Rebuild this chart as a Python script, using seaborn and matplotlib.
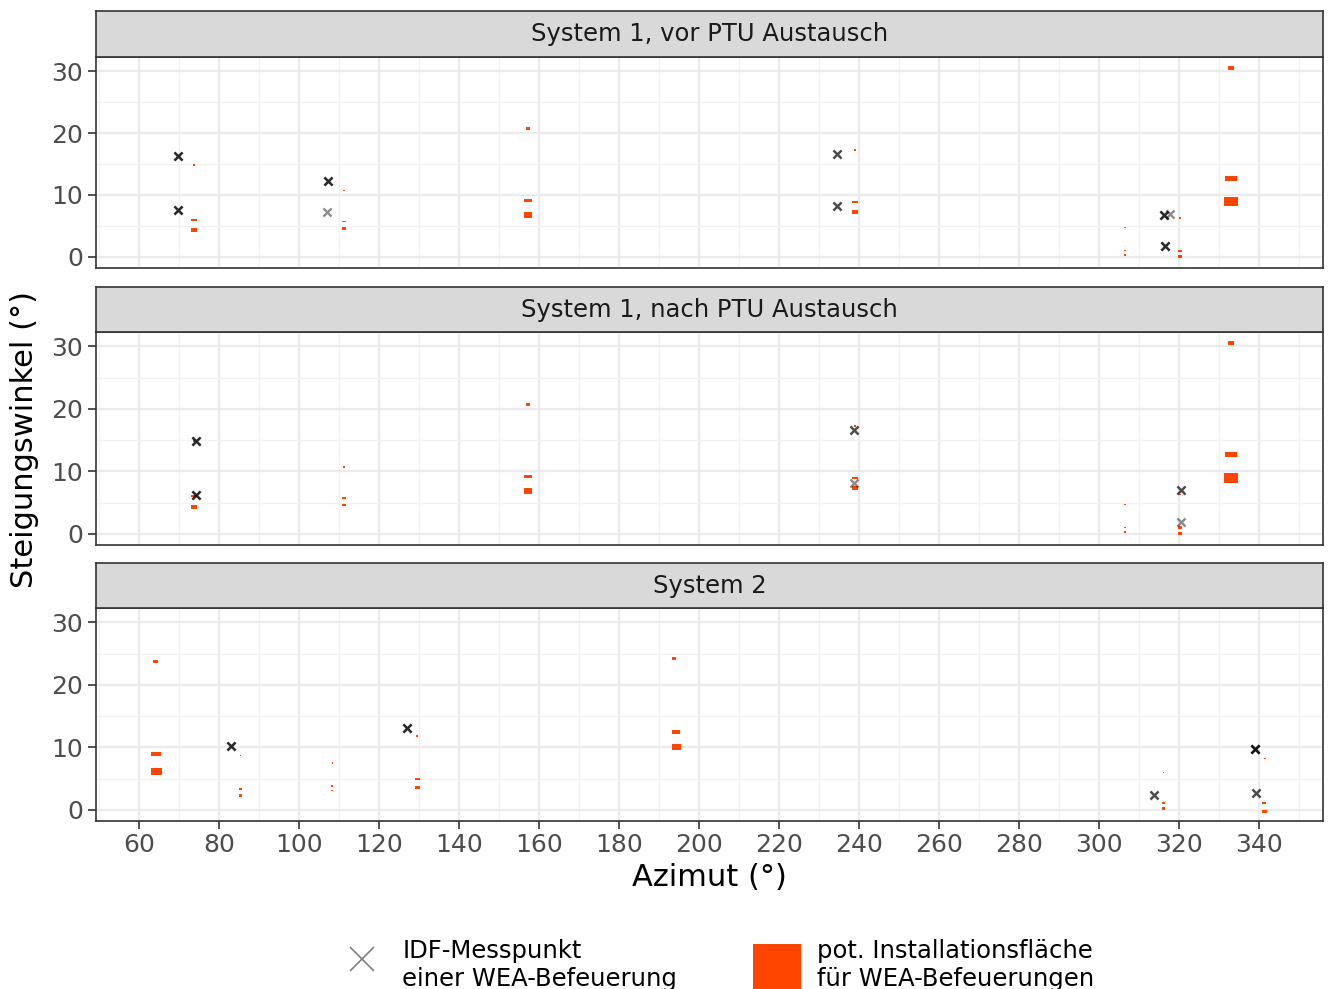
import numpy as np
import pandas as pd
import matplotlib.pyplot as plt
import seaborn as sns
from matplotlib.lines import Line2D
from matplotlib.patches import Patch

# Facetten
panels = ['System 1, vor PTU Austausch', 'System 1, nach PTU Austausch', 'System 2']

# IDF-Messpunkte (Azimut, Steigung, Anzahl Messungen am selben Punkt)
vor_az = [69.75, 69.75, 107.25, 107.0, 234.6, 234.5, 316.25, 317.75, 316.4]
vor_el = [16.3, 7.6, 12.3, 7.3, 16.7, 8.3, 6.8, 6.9, 1.7]
vor_n = [3, 3, 3, 1, 2, 2, 3, 1, 3]

nach_az = [74.3, 74.25, 238.8, 238.8, 320.4, 320.6]
nach_el = [14.9, 6.2, 16.6, 8.2, 7.0, 1.9]
nach_n = [3, 3, 2, 1, 2, 1]

sys2_az = [83.0, 127.1, 313.7, 339.1, 339.3]
sys2_el = [10.2, 13.1, 2.4, 9.7, 2.7]
sys2_n = [3, 3, 2, 4, 2]

# pot. Installationsflächen System 1 (Mitte Azimut, Mitte Steigung, Breite, Höhe)
s1_tile_az = [73.75, 73.75, 73.75, 111.25, 111.25, 111.25, 157.25, 157.25, 157.25,
              239.0, 239.0, 239.0, 306.5, 306.5, 306.5, 320.25, 320.25, 320.25,
              333.0, 333.0, 333.0]
s1_tile_el = [14.8, 6.0, 4.3, 10.7, 5.7, 4.6, 20.7, 9.1, 6.8,
              17.3, 8.9, 7.3, 4.7, 1.0, 0.3, 6.3, 1.0, 0.1,
              30.5, 12.7, 8.9]
s1_tile_w = [0.5, 1.4, 1.7, 0.4, 0.9, 0.9, 0.8, 2.0, 2.1,
             0.6, 1.5, 1.5, 0.3, 0.4, 0.4, 0.5, 1.0, 1.1,
             1.4, 3.0, 3.5]
s1_tile_h = [0.3, 0.37, 0.7, 0.25, 0.25, 0.4, 0.5, 0.5, 0.97,
             0.3, 0.3, 0.6, 0.2, 0.25, 0.3, 0.25, 0.35, 0.5,
             0.65, 0.86, 1.5]

# pot. Installationsflächen System 2
s2_tile_az = [64.2, 64.25, 64.3, 85.4, 85.4, 85.4, 108.3, 108.3, 108.3,
              129.6, 129.6, 129.6, 193.8, 194.3, 194.3, 316.1, 316.1, 316.1,
              341.6, 341.3, 341.3]
s2_tile_el = [23.7, 9.0, 6.1, 8.7, 3.3, 2.3, 7.5, 3.8, 3.1,
              11.8, 4.9, 3.6, 24.2, 12.4, 10.05, 6.0, 1.1, 0.2,
              8.2, 1.1, -0.3]
s2_tile_w = [1.3, 2.5, 2.75, 0.4, 0.6, 0.7, 0.3, 0.4, 0.4,
             0.5, 1.2, 1.2, 1.1, 2.1, 2.25, 0.4, 0.8, 0.9,
             0.5, 1.0, 1.15]
s2_tile_h = [0.5, 0.65, 1.2, 0.25, 0.25, 0.4, 0.2, 0.2, 0.25,
             0.3, 0.3, 0.55, 0.5, 0.6, 0.86, 0.2, 0.3, 0.45,
             0.3, 0.3, 0.5]

x_ticks = list(range(60, 341, 20))
y_ticks = [0, 10, 20, 30]

# Daten zusammenbauen
pts = pd.concat([
    pd.DataFrame({'az': np.repeat(vor_az, vor_n), 'el': np.repeat(vor_el, vor_n), 'panel': panels[0]}),
    pd.DataFrame({'az': np.repeat(nach_az, nach_n), 'el': np.repeat(nach_el, nach_n), 'panel': panels[1]}),
    pd.DataFrame({'az': np.repeat(sys2_az, sys2_n), 'el': np.repeat(sys2_el, sys2_n), 'panel': panels[2]}),
])
tile_s1 = pd.DataFrame({'az': s1_tile_az, 'el': s1_tile_el, 'w': s1_tile_w, 'h': s1_tile_h})
tile_s2 = pd.DataFrame({'az': s2_tile_az, 'el': s2_tile_el, 'w': s2_tile_w, 'h': s2_tile_h})
tiles = {panels[0]: tile_s1, panels[1]: tile_s1, panels[2]: tile_s2}

sns.set_theme(style='white')
plt.rcParams['font.family'] = ['DejaVu Sans']

orange = '#FF4500'
W, H = 1328, 989
fig = plt.figure(figsize=(W / 100, H / 100), dpi=100)
left, right = 96, 1323
lay = [((11, 57), (57, 268)), ((287, 332), (332, 545)), ((563, 608), (608, 821))]


def box(top, bottom):
    return [left / W, 1 - bottom / H, (right - left) / W, (bottom - top) / H]


for i, (name, (strip, pan)) in enumerate(zip(panels, lay)):
    ax = fig.add_axes(box(*pan))
    t = tiles[name]
    ax.bar(t['az'], t['h'], width=t['w'], bottom=t['el'] - t['h'] / 2,
           color=orange, linewidth=0, zorder=2)
    sns.scatterplot(data=pts[pts['panel'] == name], x='az', y='el', marker='x',
                    color='black', alpha=0.45, s=34, linewidth=1.7, ax=ax,
                    legend=False, zorder=3)
    ax.set_xlim(49.25, 356)
    ax.set_ylim(-1.8, 32.3)
    ax.set_xticks(x_ticks)
    ax.set_xticks(np.arange(50, 356, 20), minor=True)
    ax.set_yticks(y_ticks)
    ax.set_yticks([5, 15, 25], minor=True)
    ax.grid(which='major', color='#EBEBEB', linewidth=1.6, zorder=0)
    ax.grid(which='minor', color='#F2F2F2', linewidth=1.0, zorder=0)
    ax.set_axisbelow(True)
    for sp in ax.spines.values():
        sp.set_color('#333333')
        sp.set_linewidth(1.2)
    ax.tick_params(axis='both', which='major', length=5.5, width=1.2, color='#333333',
                   labelsize=18, labelcolor='#4D4D4D', left=True, bottom=(i == 2))
    ax.tick_params(axis='y', pad=4)
    ax.tick_params(axis='x', pad=3)
    ax.tick_params(which='minor', length=0)
    if i < 2:
        ax.set_xticklabels([])
    ax.set_xlabel('')
    ax.set_ylabel('')

    sax = fig.add_axes(box(*strip))
    sax.set_facecolor('#D9D9D9')
    sax.set_xticks([])
    sax.set_yticks([])
    for sp in sax.spines.values():
        sp.set_color('#333333')
        sp.set_linewidth(1.2)
    sax.text(0.5, 0.5, name, ha='center', va='center', fontsize=17.5,
             color='#1A1A1A', transform=sax.transAxes)

fig.text(709 / W, 1 - 878 / H, 'Azimut (°)', ha='center', va='center', fontsize=22, color='black')
fig.text(25 / W, 1 - 439 / H, 'Steigungswinkel (°)', ha='center', va='center',
         rotation=90, fontsize=22, color='black')

handles = [
    Line2D([], [], marker='x', linestyle='none', color='black', alpha=0.5,
           markersize=17, markeredgewidth=1.2),
    Patch(facecolor=orange, edgecolor='none'),
]
labels = ['IDF-Messpunkt\neiner WEA-Befeuerung', 'pot. Installationsfläche\nfür WEA-Befeuerungen']
fig.legend(handles, labels, loc='center', bbox_to_anchor=(716 / W, 1 - 965 / H), ncol=2,
           frameon=False, fontsize=17.5, handlelength=2.0, handleheight=2.6,
           handletextpad=0.65, columnspacing=3.1, labelcolor='black',
           labelspacing=0.3, borderpad=0.2)

fig.savefig('out.png', dpi=100)
